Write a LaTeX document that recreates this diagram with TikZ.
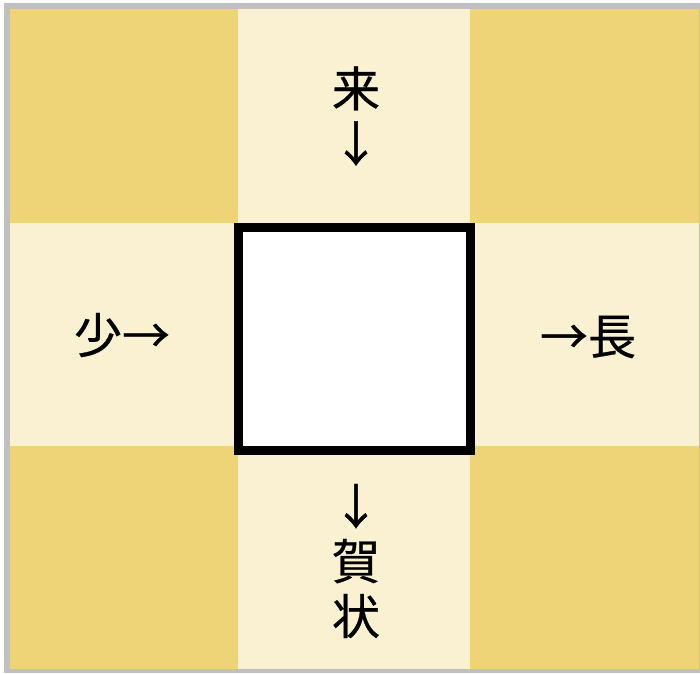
\documentclass[tikz,border=0pt]{standalone}
\usepackage{fontspec}
\newfontfamily\cjk[FakeBold=0.6]{Noto Sans CJK JP}
\definecolor{gold}{RGB}{238,212,118}
\definecolor{cream}{RGB}{250,240,210}
\definecolor{frame}{RGB}{192,192,192}
\begin{document}
\begin{tikzpicture}[x=1pt,y=-1pt,
  lbl/.style={inner sep=0pt, font=\cjk\fontsize{48}{55}\selectfont, align=center}]
\useasboundingbox (0,0) rectangle (700,673);
\fill[frame] (4,3) rectangle (700,673);
\fill[cream] (10,9) rectangle (699,669);
\foreach \x/\xx in {10/238,470/699}
  \foreach \y/\yy in {9/223,446/669}
    \fill[gold] (\x,\y) rectangle (\xx,\yy);
\draw[line width=9pt, fill=white] (238.5,227.5) rectangle (470.5,450.5);
\node[lbl] (top) at (356,116) {来\\↓};
\node[lbl] (left) at (122,335) {少→};
\node[lbl] (right) at (588,337) {→長};
\node[lbl] (bottom) at (356,561) {↓\\賀\\状};
\end{tikzpicture}
\end{document}
